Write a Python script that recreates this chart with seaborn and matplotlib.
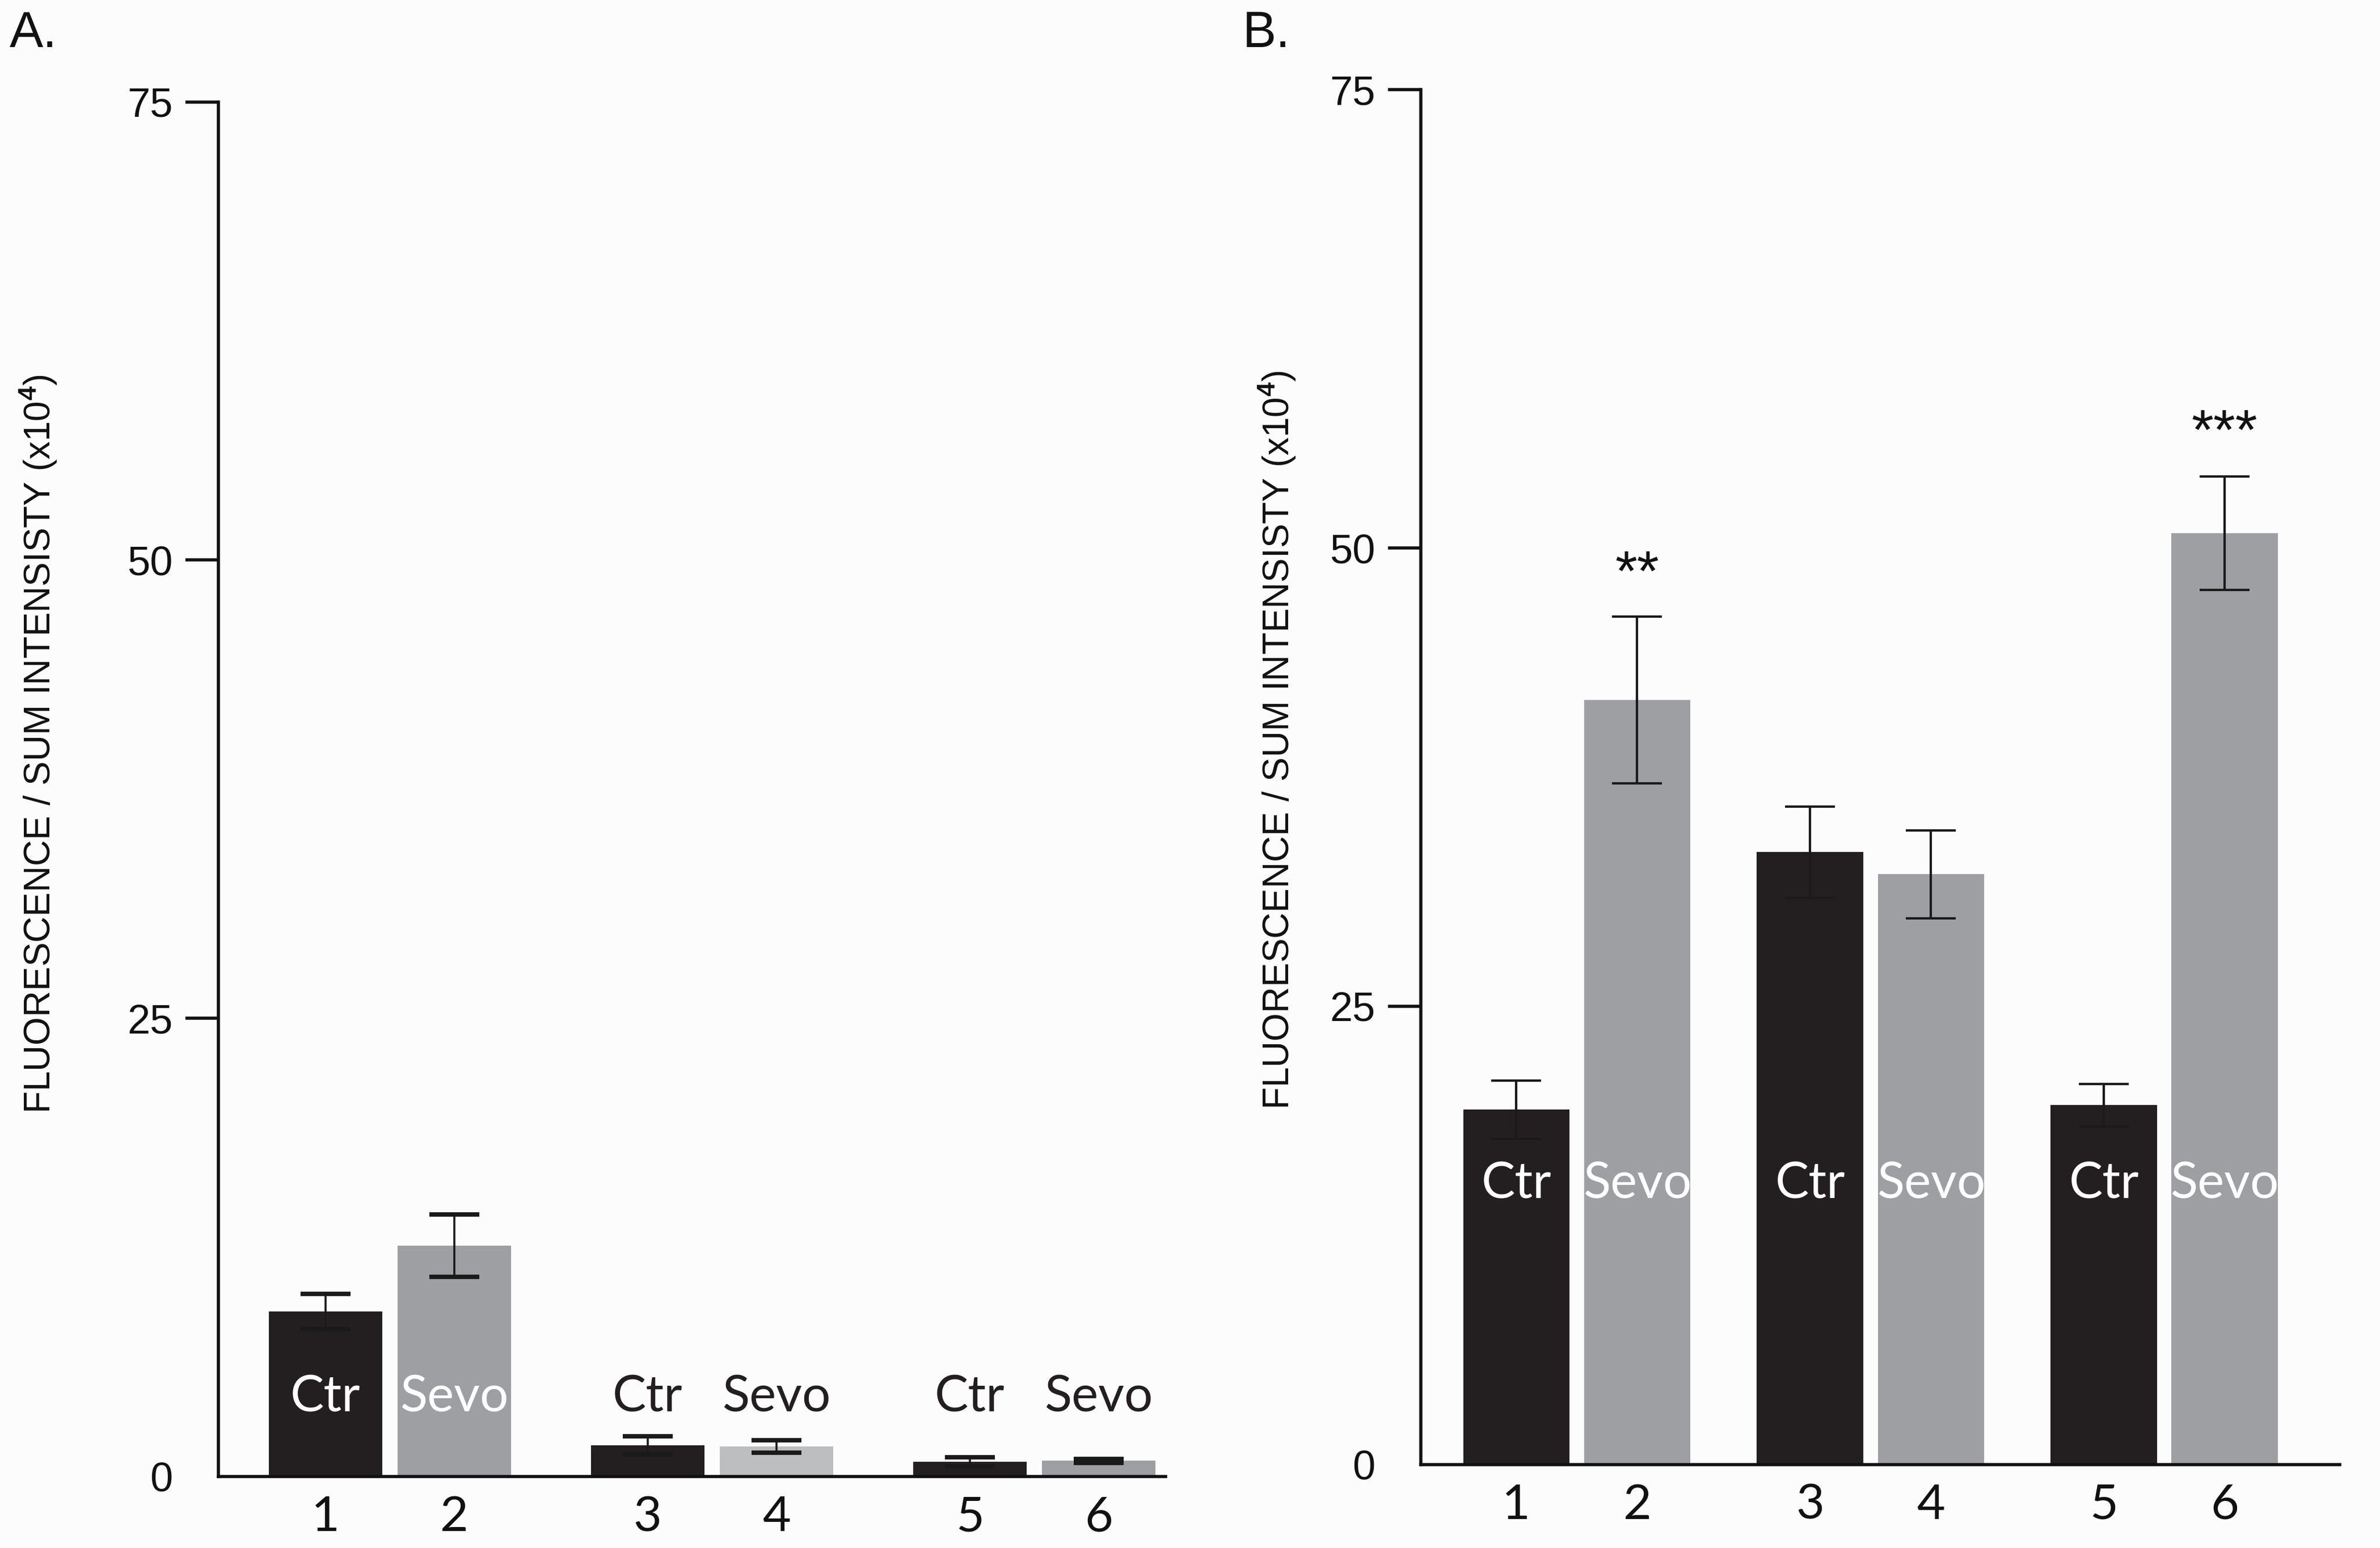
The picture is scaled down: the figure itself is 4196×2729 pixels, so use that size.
import numpy as np
import pandas as pd
import matplotlib
matplotlib.use("Agg")
import matplotlib.pyplot as plt
import seaborn as sns

# ---------------- data ----------------
bar_ids = ["1", "2", "3", "4", "5", "6"]
groups = [0, 0, 1, 1, 2, 2]
conditions = ["Ctr", "Sevo", "Ctr", "Sevo", "Ctr", "Sevo"]

a_values = [9.0, 12.6, 1.7, 1.65, 0.8, 0.85]
a_errors = [0.95, 1.7, 0.5, 0.34, 0.26, 0.12]

b_values = [19.35, 41.7, 33.4, 32.2, 19.6, 50.8]
b_errors = [1.6, 4.55, 2.5, 2.4, 1.17, 3.1]

b_stars = {1: "**", 5: "***"}
b_star_y = {1: 48.5, 5: 56.2}

yticks = [0, 25, 50, 75]
ylabel = r"FLUORESCENCE / SUM INTENSISTY (x10$^{\mathbf{4}}$)"

# ---------------- style ----------------
sns.set_theme(style="ticks")
plt.rcParams["font.family"] = ["Liberation Sans", "DejaVu Sans"]
plt.rcParams["mathtext.fontset"] = "custom"
plt.rcParams["mathtext.rm"] = "Liberation Sans"
plt.rcParams["mathtext.it"] = "Liberation Sans:italic"
plt.rcParams["mathtext.bf"] = "Liberation Sans:bold"

BLACK = "#231f20"
GRAY = "#9d9fa2"
LIGHT = "#bcbec0"
a_colors = [BLACK, GRAY, BLACK, LIGHT, BLACK, GRAY]
b_colors = [BLACK, GRAY, BLACK, GRAY, BLACK, GRAY]
NARROW = ["Lato", "Open Sans", "DejaVu Sans"]

BG = "#fcfcfc"
fig = plt.figure(figsize=(20.98, 13.645), dpi=200, facecolor=BG)


def positions(gap):
    return [g * gap + (i % 2) for i, g in enumerate(groups)]


def panel(rect, values, errors, colors, gap, xlim, label_y, label_colors,
          ecap, elw, label_coords):
    ax = fig.add_axes(rect)
    ax.set_facecolor(BG)
    pos = positions(gap)
    df = pd.DataFrame({"pos": pos, "value": values, "bar": bar_ids})
    sns.barplot(data=df, x="pos", y="value", hue="bar", palette=colors,
                native_scale=True, width=0.88, dodge=False, legend=False,
                errorbar=None, saturation=1, linewidth=0, ax=ax)
    ax.errorbar(pos, values, yerr=errors, fmt="none", ecolor="#1a1a1a",
                elinewidth=elw, capsize=16, capthick=ecap, zorder=5)
    for p, c, lc in zip(pos, conditions, label_colors):
        ax.text(p, label_y, c, ha="center", va="center", color=lc,
                fontsize=32, family=NARROW, zorder=6)
    ax.set_xlim(*xlim)
    ax.set_ylim(0, 75)
    ax.set_yticks(yticks)
    ax.set_yticklabels([str(t) for t in yticks], fontsize=26, color="#111111")
    ax.set_xticks(pos)
    ax.set_xticklabels(bar_ids, fontsize=31, family=NARROW, color="#111111")
    ax.tick_params(axis="x", length=0, pad=12)
    ax.tick_params(axis="y", length=21, width=2, pad=8, color="#111111")
    ax.yaxis.get_major_ticks()[0].tick1line.set_visible(False)
    for s in ["top", "right"]:
        ax.spines[s].set_visible(False)
    for s in ["left", "bottom"]:
        ax.spines[s].set_linewidth(2)
        ax.spines[s].set_color("#111111")
    ax.set_xlabel("")
    ax.set_ylabel(ylabel, fontsize=23, color="#111111")
    ax.yaxis.label.set_va("center")
    ax.yaxis.set_label_coords(*label_coords)
    return ax, pos


axA, posA = panel([0.0918, 0.0462, 0.398, 0.888], a_values, a_errors, a_colors,
                  2.5, (-0.83, 6.52), 4.3,
                  ["white", "white", BLACK, BLACK, BLACK, BLACK],
                  2.8, 1.3, (-0.19, 0.533))

axB, posB = panel([0.597, 0.054, 0.386, 0.888], b_values, b_errors, b_colors,
                  2.43, (-0.79, 6.81), 15.3,
                  ["white"] * 6, 1.5, 1.5, (-0.156, 0.527))

for i, s in b_stars.items():
    axB.text(posB[i], b_star_y[i], s, ha="center", va="center",
             fontsize=36, color="#111111")

fig.text(0.004, 0.978, "A.", fontsize=32, va="center", ha="left", color="#111111")
fig.text(0.522, 0.978, "B.", fontsize=32, va="center", ha="left", color="#111111")

fig.savefig("out.png", dpi=200, facecolor=BG)
